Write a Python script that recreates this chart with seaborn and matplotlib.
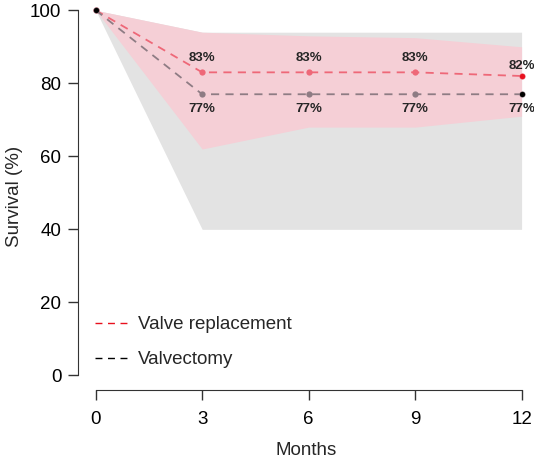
import matplotlib
matplotlib.use("Agg")
import matplotlib.pyplot as plt
from matplotlib.lines import Line2D
import seaborn as sns
import pandas as pd

# данные
months = [0, 3, 6, 9, 12]
valve_repl = [100, 83, 83, 83, 82]
valve_repl_lo = [100, 62, 68, 68, 71]
valve_repl_hi = [100, 94, 93, 92.5, 90]
valvectomy = [100, 77, 77, 77, 77]
valvectomy_lo = [100, 40, 40, 40, 40]
valvectomy_hi = [100, 94, 94, 94, 94]
repl_labels = ["83%", "83%", "83%", "82%"]
vtomy_labels = ["77%", "77%", "77%", "77%"]
x_ticks = [0, 3, 6, 9, 12]
y_ticks = [0, 20, 40, 60, 80, 100]

df = pd.DataFrame({
    "Months": months * 2,
    "Survival": valve_repl + valvectomy,
    "group": ["Valve replacement"] * 5 + ["Valvectomy"] * 5,
})

sns.set_style("ticks")
plt.rcParams["font.family"] = ["Liberation Sans", "DejaVu Sans"]

fig = plt.figure(figsize=(5.34, 4.58), dpi=100)
ax = fig.add_axes([0.146, 0.1485, 0.854, 0.845])

# доверительные интервалы
ax.fill_between(months, valvectomy_lo, valvectomy_hi, color="#e3e3e3", lw=0, zorder=1)
ax.fill_between(months, valve_repl_lo, valve_repl_hi, color="#f5cfd6", lw=0, zorder=2)

line_colors = {"Valve replacement": "#ee6878", "Valvectomy": "#8e7c84"}
sns.lineplot(data=df, x="Months", y="Survival", hue="group", palette=line_colors,
             linestyle="--", lw=1.3, marker="o", markersize=4.5, markeredgewidth=0,
             legend=False, ax=ax, zorder=3)
for l in ax.lines:
    l.set_dashes([4.5, 3.5])

# конечные точки
ax.scatter([0], [100], s=14, color="black", zorder=5, lw=0)
ax.scatter([12], [valve_repl[-1]], s=14, color="#e8101e", zorder=5, lw=0)
ax.scatter([12], [valvectomy[-1]], s=14, color="black", zorder=5, lw=0)

# подписи процентов
for i, (m, t) in enumerate(zip(months[1:], repl_labels)):
    dy = 2.2 if i < 3 else 1.2
    ax.text(m, valve_repl[i + 1] + dy, t, ha="center", va="bottom",
            fontsize=9.5, fontweight="bold")
for m, v, t in zip(months[1:], valvectomy[1:], vtomy_labels):
    ax.text(m, v - 2.3, t, ha="center", va="top", fontsize=9.5, fontweight="bold")

# легенда
handles = [Line2D([], [], color="#e8101e", ls="--", lw=1, dashes=[5, 4]),
           Line2D([], [], color="black", ls="--", lw=1, dashes=[5, 4])]
ax.legend(handles, ["Valve replacement", "Valvectomy"], loc="lower left",
          bbox_to_anchor=(0.0, 0.013), frameon=False, fontsize=13.5,
          handlelength=1.75, labelspacing=0.95, handletextpad=0.55)

ax.set_xlim(-0.5, 12.35)
ax.set_ylim(-4, 102)
ax.set_xticks(x_ticks)
ax.set_yticks(y_ticks)
ax.spines["top"].set_visible(False)
ax.spines["right"].set_visible(False)
ax.spines["left"].set_bounds(0, 100)
ax.spines["bottom"].set_bounds(0, 12)
ax.spines["left"].set_color("#333333")
ax.spines["bottom"].set_color("#333333")
ax.tick_params(length=7, width=1, colors="#333333", labelcolor="black", labelsize=13.5)
ax.tick_params(axis="y", pad=5)
ax.tick_params(axis="x", pad=8)
ax.set_xlabel("Months", fontsize=13.5, labelpad=10)
ax.set_ylabel("Survival (%)", fontsize=13.5, labelpad=5)

plt.savefig("out.png", dpi=100)
plt.close()
